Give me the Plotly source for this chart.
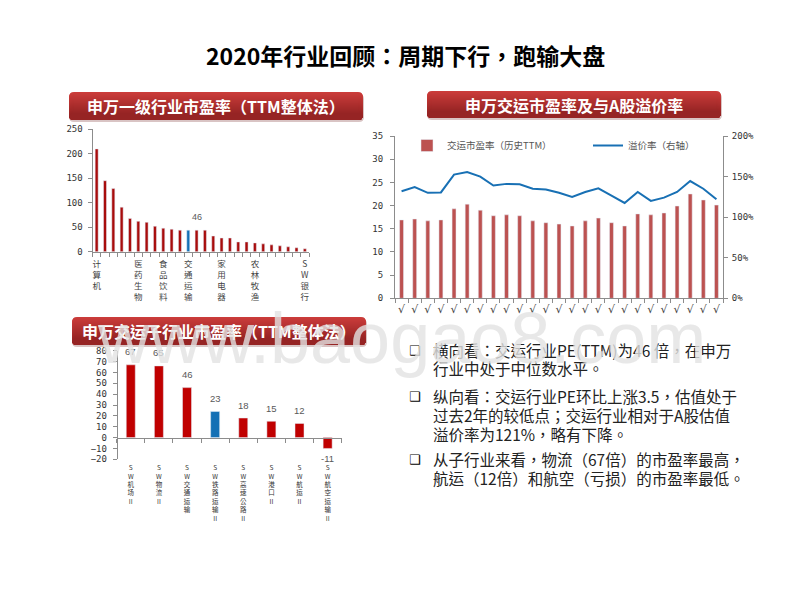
import re
import plotly.graph_objects as go

# 申万一级行业市盈率
rank_ids = [str(i) for i in range(1, 27)]
rank_values = [210, 145, 129, 91, 68, 62, 60, 52, 48, 46, 44, 44, 44, 44, 32, 28, 28, 20, 20, 18, 16, 14, 12, 10, 8, 6]
rank_labels = ["计算机", "", "", "", "", "医药生物", "", "", "食品饮料", "", "", "交通运输", "", "", "", "家用电器",
               "", "", "", "农林牧渔", "", "", "", "", "", "SW银行"]
rank_highlight = "交通运输"
rank_note = "46"

# 交运市盈率及溢价率
month_ids = [str(i) for i in range(1, 26)]
month_label = "√"
pe_values = [16.9, 17.1, 16.7, 16.9, 19.3, 20.3, 19.0, 17.8, 18.0, 17.8, 16.7, 16.3, 16.0, 15.6, 16.7, 17.3, 16.3,
             15.6, 18.2, 18.0, 18.4, 19.9, 22.5, 21.2, 20.1]
premium_values = [132, 137, 130, 130.5, 152.5, 155.5, 150, 139, 141, 140.5, 135, 134, 130, 125, 131, 135.5, 126.5,
                  117.5, 131, 120, 124, 131, 144.5, 135, 122]

# 交运子行业市盈率
sub_names = ["SW机场II", "SW物流II", "SW交通运输", "SW铁路运输II", "SW高速公路II", "SW港口II", "SW航运II", "SW航空运输II"]
sub_values = [67, 66, 46, 24, 18, 15, 13, -10]
sub_notes = ["67", "65", "46", "23", "18", "15", "12", "-11"]
sub_highlight = "SW铁路运输II"

bullets = [
    ("❑", "横向看：交运行业PE(TTM)为46 倍，在申万", 350),
    ("", "行业中处于中位数水平。", 368),
    ("❑", "纵向看：交运行业PE环比上涨3.5，估值处于", 396),
    ("", "过去2年的较低点；交运行业相对于A股估值", 415),
    ("", "溢价率为121%，略有下降。", 434),
    ("❑", "从子行业来看，物流（67倍）的市盈率最高，", 459),
    ("", "航运（12倍）和航空（亏损）的市盈率最低。", 478),
]

W, H = 800, 600
AXIS_FONT = dict(family="DejaVu Sans Mono", size=9, color="#333333")
CJK = "Noto Sans CJK TC"
RED_TOP = (203, 60, 58)
RED_BOTTOM = (150, 36, 36)


def px(x):
    return x / W


def py(y):
    return 1 - y / H


def stacked(name):
    return "<br>".join(re.findall(r"II|.", name))


def rounded(x0, y0, x1, y1, r=5):
    return (f"M {px(x0 + r)} {py(y0)} L {px(x1 - r)} {py(y0)} Q {px(x1)} {py(y0)} {px(x1)} {py(y0 + r)} "
            f"L {px(x1)} {py(y1 - r)} Q {px(x1)} {py(y1)} {px(x1 - r)} {py(y1)} L {px(x0 + r)} {py(y1)} "
            f"Q {px(x0)} {py(y1)} {px(x0)} {py(y1 - r)} L {px(x0)} {py(y0 + r)} Q {px(x0)} {py(y0)} {px(x0 + r)} {py(y0)} Z")


def page_text(x, y, text, font, xanchor="center"):
    fig.add_annotation(x=px(x), y=py(y), xref="paper", yref="paper", text=text, showarrow=False,
                       xanchor=xanchor, yanchor="middle", font=font)


def header(x0, y0, x1, y1, text, size):
    fig.add_shape(type="path", path=rounded(x0, y0 + 2, x1 + 1, y1 + 2), xref="paper", yref="paper",
                  fillcolor="#D9C4C4", line_width=0)
    steps = int(y1 - y0) - 6
    for i in range(steps):
        t = i / (steps - 1)
        c = [round(a + (b - a) * t) for a, b in zip(RED_TOP, RED_BOTTOM)]
        fig.add_shape(type="path", path=rounded(x0, y0 + i, x1, y1), xref="paper", yref="paper",
                      fillcolor=f"rgb({c[0]},{c[1]},{c[2]})", line_width=0)
    page_text((x0 + x1) / 2, (y0 + y1) / 2, text, dict(family=CJK, size=size, color="white", weight="bold"))


fig = go.Figure()

fig.add_bar(x=rank_ids, y=rank_values, xaxis="x", yaxis="y", width=0.36, showlegend=False,
            marker_color=["#1470B5" if l == rank_highlight else "#A80C0C" for l in rank_labels])
fig.add_bar(x=month_ids, y=pe_values, xaxis="x2", yaxis="y2", width=0.3, name="交运市盈率（历史TTM）",
            marker_color="#BC5251")
fig.add_scatter(x=month_ids, y=premium_values, xaxis="x2", yaxis="y3", mode="lines", name="溢价率（右轴）",
                line=dict(color="#1870B4", width=2))
fig.add_bar(x=sub_names, y=sub_values, xaxis="x3", yaxis="y4", width=0.32, showlegend=False,
            marker_color=["#1470B5" if n == sub_highlight else "#C00000" for n in sub_names])

axis_line = dict(showline=True, linecolor="#8C8C8C", linewidth=1, ticks="outside", ticklen=4, tickcolor="#8C8C8C",
                 showgrid=False, zeroline=False)

fig.update_layout(
    width=W, height=H, margin=dict(l=0, r=0, t=0, b=0, autoexpand=False), paper_bgcolor="white",
    plot_bgcolor="rgba(0,0,0,0)", barmode="overlay",
    legend=dict(orientation="h", x=px(407), y=py(131), xanchor="left", yanchor="top", bgcolor="rgba(0,0,0,0)",
                font=dict(family=CJK, size=9.5, color="#555555"), entrywidth=136, itemwidth=30),
    xaxis=dict(domain=[px(92.5), px(309)], anchor="y", type="category", tickson="boundaries", tickmode="array",
               tickvals=rank_ids, ticktext=[stacked(l) for l in rank_labels], tickangle=0, ticklabelstandoff=4,
               tickfont=dict(family=CJK, size=8.5, color="#444444"), **axis_line),
    yaxis=dict(domain=[py(251.7), py(129.3)], anchor="x", range=[0, 250], dtick=50, ticklabelstandoff=3,
               tickfont=AXIS_FONT, **axis_line),
    xaxis2=dict(domain=[px(395), px(723)], anchor="y2", type="category", tickson="boundaries", tickmode="array",
                tickvals=month_ids, ticktext=[month_label] * len(month_ids), tickangle=0,
                tickfont=dict(family="DejaVu Sans", size=11, color="#444444"), **axis_line),
    yaxis2=dict(domain=[py(298.3), py(136)], anchor="x2", range=[0, 35], dtick=5, ticklabelstandoff=5,
                tickfont=AXIS_FONT, **axis_line),
    yaxis3=dict(domain=[py(298.3), py(136)], anchor="x2", overlaying="y2", side="right", range=[0, 200], dtick=50,
                ticksuffix="%", ticklabelstandoff=2, tickfont=AXIS_FONT, **axis_line),
    xaxis3=dict(domain=[px(116.7), px(341.7)], anchor="free", position=py(438.3), type="category",
                tickson="boundaries", tickmode="array", tickvals=sub_names, ticktext=[stacked(n) for n in sub_names],
                tickangle=0, ticklabelstandoff=23, tickfont=dict(family=CJK, size=6.5, color="#333333"), **axis_line),
    yaxis4=dict(domain=[py(459.3), py(350.7)], anchor="free", position=px(116.7), range=[-20, 80], dtick=10,
                ticklabelstandoff=4, tickfont=AXIS_FONT, **axis_line),
)

# 标题和三个红色小标题
page_text(405, 55, "2020年行业回顾：周期下行，跑输大盘", dict(family=CJK, size=23, color="black", weight="bold"))
header(69, 92, 363, 120, "申万一级行业市盈率（TTM整体法）", 16)
header(427, 91, 721, 118, "申万交运市盈率及与A股溢价率", 16)
header(72, 317, 366, 345, "申万交运子行业市盈率（TTM整体法）", 16)

# 数据标签
fig.add_annotation(x=rank_ids[rank_labels.index(rank_highlight)], y=44, xref="x", yref="y", text=rank_note,
                   yshift=13, showarrow=False, font=dict(family="Liberation Sans", size=9, color="#595959"))
for name, value, note in zip(sub_names, sub_values, sub_notes):
    fig.add_annotation(x=name, y=value, xref="x3", yref="y4", text=note, yshift=13 if value > 0 else -10,
                       showarrow=False, font=dict(family="Liberation Sans", size=9.5, color="#595959"))

# 右下文字
for mark, line, y in bullets:
    if mark:
        page_text(415, y, mark, dict(family="DejaVu Sans", size=13, color="black"))
    page_text(431, y, line, dict(family=CJK, size=15.5, color="#222222"), xanchor="left")

# 水印
page_text(402, 338, "www.baogao8.com", dict(family="Liberation Sans", size=72, color="rgba(226,226,226,0.8)"))

fig.write_html("out.html", config={"displayModeBar": False}, post_script="document.body.style.margin='0';")
